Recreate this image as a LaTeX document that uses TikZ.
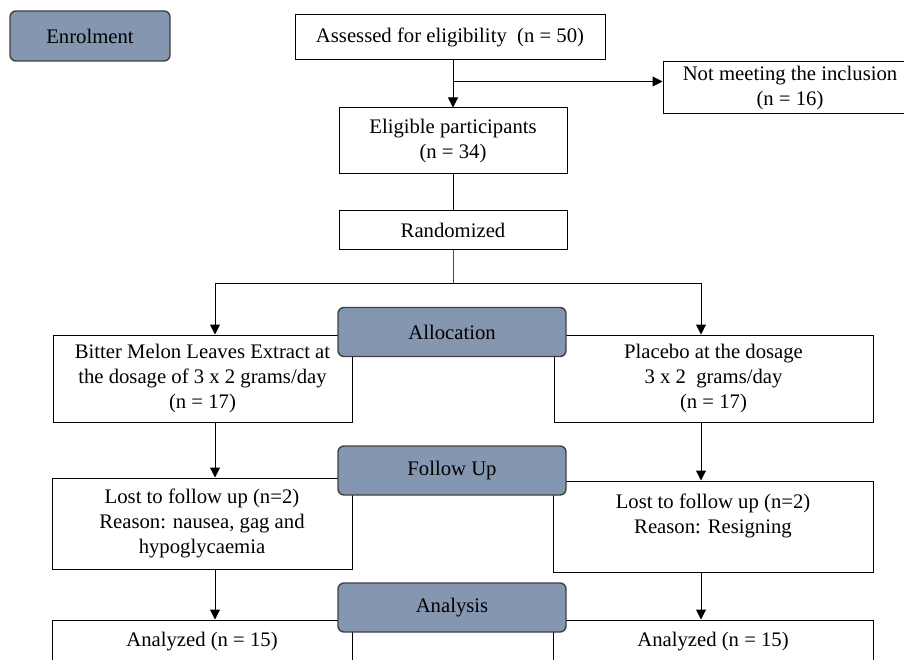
\documentclass[tikz,border=0pt]{standalone}
\usepackage{fontspec}
\setmainfont{Liberation Serif}
\usepackage{xcolor}
\usetikzlibrary{arrows.meta,calc}
\definecolor{stagegray}{RGB}{132,150,176}

\begin{document}
\begin{tikzpicture}[x=1pt,y=-1pt,
                    font=\fontsize{20.7}{25}\selectfont,
                    box/.style={draw=black,line width=1pt,fill=white,align=center,inner sep=0pt},
                    stage/.style={draw=black!75,line width=1.4pt,fill=stagegray,rounded corners=6pt,
                                  minimum width=228pt,minimum height=49pt,inner sep=0pt},
                    arr/.style={-{Triangle[length=10pt,width=10pt]},line width=1pt}]
    \useasboundingbox (0,0) rectangle (904,660);
    \clip (0,0) rectangle (904,660);
    % boxes
    \node[box,minimum width=310pt,minimum height=45pt] (assess) at (450,37.5) {Assessed for eligibility\ \ (n = 50)};
    \node[box,minimum width=254pt,minimum height=52pt] (notmeet) at (790,88) {Not meeting the inclusion\\(n = 16)};
    \node[box,minimum width=228pt,minimum height=66pt] (eligible) at (453,141) {Eligible participants\\(n = 34)};
    \node[box,minimum width=228pt,minimum height=39pt] (random) at (453,230.5) {Randomized};
    \node[box,minimum width=299pt,minimum height=87pt] (bmle) at (202.5,378.5) {Bitter Melon Leaves Extract at\\the dosage of 3 x 2 grams/day\\(n = 17)};
    \node[box,minimum width=319pt,minimum height=87pt] (placebo) at (713.5,378.5) {Placebo at the dosage\\3 x 2\ \ grams/day\\(n = 17)};
    \node[box,minimum width=300pt,minimum height=91pt] (lostL) at (202,523.5) {Lost to follow up (n=2)\\Reason: nausea, gag and\\hypoglycaemia};
    \node[box,minimum width=320pt,minimum height=91pt] (lostR) at (713,526.5) {Lost to follow up (n=2)\\Reason: Resigning\\\mbox{}};
    \node[box,minimum width=300pt,minimum height=44pt] (anL) at (202,642) {Analyzed (n = 15)};
    \node[box,minimum width=320pt,minimum height=44pt] (anR) at (713,642) {Analyzed (n = 15)};
    % connectors
    \coordinate (top) at (eligible.north |- assess.south);
    \coordinate (split) at ($(top)+(0,21)$);
    \draw[arr] (top) -- (eligible.north);
    \draw[arr] (split) -- (split -| notmeet.west);
    \draw[line width=1pt] (eligible.south) -- (random.north);
    \coordinate (jL) at (215,283);
    \coordinate (jR) at (701,283);
    \draw[line width=1pt,black!70] (random.south) -- (random.south |- jL);
    \draw[line width=1pt] (jL) -- (jR);
    \draw[arr] (jL) -- (jL |- bmle.north);
    \draw[arr] (jR) -- (jR |- placebo.north);
    \draw[arr] (bmle.south -| jL) -- (lostL.north -| jL);
    \draw[arr] (placebo.south -| jR) -- (lostR.north -| jR);
    \draw[arr] (lostL.south -| jL) -- (anL.north -| jL);
    \draw[arr] (lostR.south -| jR) -- (anR.north -| jR);
    % stages
    \node[stage,minimum width=160pt,minimum height=50pt] (enrol) at (90,36) {Enrolment};
    \node[stage] (alloc) at (452,332) {Allocation};
    \node[stage] (follow) at (452,470.5) {Follow Up};
    \node[stage] (analysis) at (452,607.5) {Analysis};
\end{tikzpicture}
\end{document}
